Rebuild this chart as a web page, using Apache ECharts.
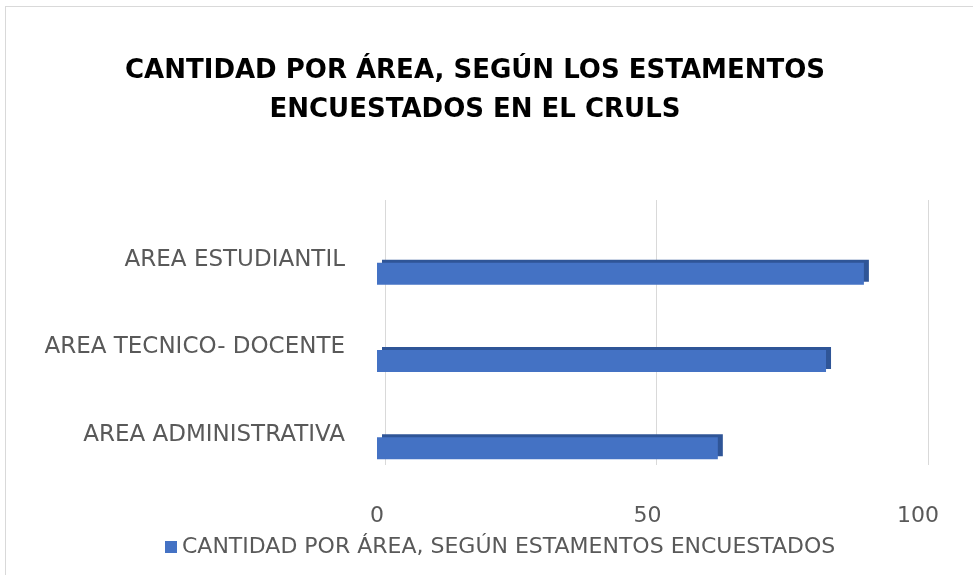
<!DOCTYPE html>
<html>
<head>
<meta charset="utf-8">
<script src="https://cdn.jsdelivr.net/npm/echarts@6/dist/echarts.min.js"></script>
<style>
	html, body { margin: 0; padding: 0; background: #fff; }
	#main { width: 973px; height: 575px; }
	.frame { position: absolute; left: 5px; top: 6px; width: 968px; height: 569px; border-left: 1px solid #d9d9d9; border-top: 1px solid #d9d9d9; pointer-events: none; }
</style>
</head>
<body>
<div id="main"></div>
<div class="frame"></div>
<script>
// 数据
var categories = ['AREA ADMINISTRATIVA', 'AREA TECNICO- DOCENTE', 'AREA ESTUDIANTIL'];
var values = [63, 83, 90];
var seriesName = 'CANTIDAD POR ÁREA, SEGÚN ESTAMENTOS ENCUESTADOS';
var titleText = 'CANTIDAD POR ÁREA, SEGÚN LOS ESTAMENTOS\nENCUESTADOS EN EL CRULS';

(function() {
	var myChart = echarts.init(document.getElementById('main'));
	var font = 'DejaVu Sans';
	var option = {
		animation: false,
		title: {
			text: titleText,
			left: 470,
			top: 47,
			textAlign: 'center',
			textStyle: {
				fontFamily: font,
				fontSize: 26,
				fontWeight: 'bold',
				color: '#000',
				lineHeight: 39
			}
		},
		legend: {
			top: 531,
			left: 160,
			icon: 'rect',
			itemWidth: 12,
			itemHeight: 12,
			itemGap: 8,
			textStyle: {
				fontFamily: font,
				fontSize: 22,
				color: '#595959'
			},
			data: [seriesName]
		},
		// 两个grid: 背面网格线 + 正面柱子
		grid: [
			{ left: 385, right: 45, top: 200, height: 265 },
			{ left: 377, right: 55, top: 230, height: 262 }
		],
		xAxis: [{
			gridIndex: 0,
			type: 'value',
			min: 0,
			max: 100,
			interval: 50,
			axisLabel: { show: false },
			axisLine: { show: false },
			axisTick: { show: false },
			splitLine: { lineStyle: { color: '#d9d9d9' } }
		}, {
			gridIndex: 1,
			type: 'value',
			min: 0,
			max: 100,
			interval: 50,
			axisLabel: {
				fontFamily: font,
				fontSize: 22,
				color: '#595959',
				margin: 13
			},
			axisLine: { show: false },
			axisTick: { show: false },
			splitLine: { show: false }
		}],
		yAxis: [{
			gridIndex: 0,
			type: 'category',
			data: categories,
			show: false
		}, {
			gridIndex: 1,
			type: 'category',
			data: categories,
			axisLine: { show: false },
			axisTick: { show: false },
			axisLabel: {
				fontFamily: font,
				fontSize: 23,
				color: '#595959',
				margin: 32,
				verticalAlign: 'bottom',
				lineHeight: 27
			}
		}],
		series: [{
			name: seriesName,
			type: 'bar',
			xAxisIndex: 1,
			yAxisIndex: 1,
			barWidth: 22,
			itemStyle: {
				color: '#4472C4',
				// 模拟3D侧面
				shadowColor: '#2F5597',
				shadowOffsetX: 5,
				shadowOffsetY: -3,
				shadowBlur: 0
			},
			data: values
		}]
	};
	myChart.setOption(option);
	window.addEventListener('resize', function() {
		myChart.resize();
	});
})();
</script>
</body>
</html>
